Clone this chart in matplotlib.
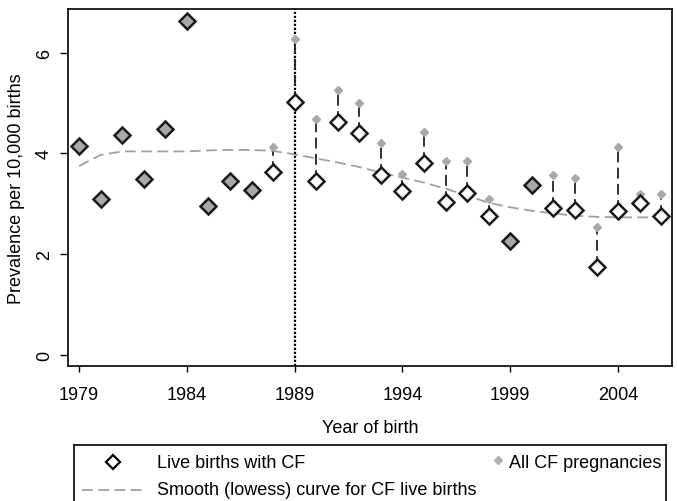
import numpy as np
import matplotlib
matplotlib.use("Agg")
import matplotlib.pyplot as plt
from matplotlib.lines import Line2D

plt.rcParams['font.family'] = ['Liberation Sans', 'DejaVu Sans']

years = list(range(1979, 2007))
live_births = [4.15, 3.10, 4.37, 3.50, 4.49, 6.63, 2.96, 3.45, 3.27, 3.64,
               5.02, 3.46, 4.63, 4.40, 3.58, 3.26, 3.80, 3.04, 3.21, 2.76,
               2.25, 3.37, 2.92, 2.88, 1.75, 2.86, 3.02, 2.75]
nan = np.nan
all_pregnancies = [nan, nan, nan, nan, nan, nan, nan, nan, nan, 4.13,
                   6.28, 4.68, 5.26, 5.01, 4.20, 3.59, 4.43, 3.84, 3.85, 3.09,
                   nan, nan, 3.57, 3.51, 2.54, 4.12, 3.19, 3.19]
smooth_curve = [3.75, 3.97, 4.04, 4.04, 4.04, 4.04, 4.06, 4.07, 4.07, 4.05,
                3.98, 3.90, 3.82, 3.73, 3.62, 3.52, 3.42, 3.30, 3.16, 3.02,
                2.93, 2.86, 2.81, 2.76, 2.74, 2.73, 2.73, 2.73]
x_ticks = [1979, 1984, 1989, 1994, 1999, 2004]
y_ticks = [0, 2, 4, 6]
screening_year = 1989

W, H = 677, 502
fig = plt.figure(figsize=(W/100, H/100), dpi=100)
ax = fig.add_axes([68.3/W, (H-367.3)/H, (672-68.3)/W, (367.3-10)/H])

yrs = np.array(years)
lv = np.array(live_births)
ap = np.array(all_pregnancies)
has_all = ~np.isnan(ap)

# smooth curve
ax.plot(yrs, smooth_curve, color='#a0a0a0', lw=1.3, ls=(0, (6, 3)), zorder=2)
# vertical dotted line
ax.axvline(screening_year, color='black', lw=1.6, ls=(0, (1, 0.8)), zorder=3)
# connecting lines
ax.vlines(yrs[has_all], lv[has_all], ap[has_all], colors='#222222', lw=1.3,
          linestyles=(0, (6, 3)), zorder=3)
# all pregnancies markers
ax.plot(yrs[has_all], ap[has_all], ls='none', marker='D', ms=4,
        mfc='#a8a8a8', mec='#a8a8a8', zorder=4)
# live births markers
ax.plot(yrs[~has_all], lv[~has_all], ls='none', marker='D', ms=8.5,
        mfc='#a8a8a8', mec='#1a1a1a', mew=1.8, zorder=5)
ax.plot(yrs[has_all], lv[has_all], ls='none', marker='D', ms=8.5,
        mfc='white', mec='#1a1a1a', mew=1.8, zorder=5)

ax.set_xlim(1978.5, 2006.5)
ax.set_ylim(-0.23, 6.87)
ax.set_xticks(x_ticks)
ax.set_yticks(y_ticks)
ax.tick_params(axis='x', length=4, width=1, pad=10, labelsize=13)
ax.tick_params(axis='y', length=6, width=1, pad=5, labelsize=13)
for lab in ax.get_yticklabels():
    lab.set_rotation(90)
    lab.set_va('center')
for s in ax.spines.values():
    s.set_linewidth(1.2)
ax.set_xlabel('Year of birth', fontsize=13, labelpad=12)
ax.set_ylabel('Prevalence per 10,000 births', fontsize=13, labelpad=8)

# legend box
L, R, T, B = 74, 666, 445.7, 512
lax = fig.add_axes([L/W, (H-B)/H, (R-L)/W, (B-T)/H])
lax.set_xlim(L, R)
lax.set_ylim(B, T)
lax.set_xticks([])
lax.set_yticks([])
for s in lax.spines.values():
    s.set_linewidth(1.2)
lax.plot([112.7], [463.3], ls='none', marker='D', ms=7, mfc='white', mec='black', mew=1.6)
lax.text(156.7, 463.3, 'Live births with CF', fontsize=13, va='center', ha='left')
lax.plot([497.7], [461.3], ls='none', marker='D', ms=4, mfc='#b0b0b0', mec='#b0b0b0')
lax.text(509.3, 463.3, 'All CF pregnancies', fontsize=13, va='center', ha='left')
lax.plot([81.7, 141.7], [490.7, 490.7], color='#a0a0a0', lw=1.3, ls=(0, (6, 3)))
lax.text(156.7, 490.7, 'Smooth (lowess) curve for CF live births', fontsize=13,
         va='center', ha='left')

fig.savefig('out.png', dpi=100)
